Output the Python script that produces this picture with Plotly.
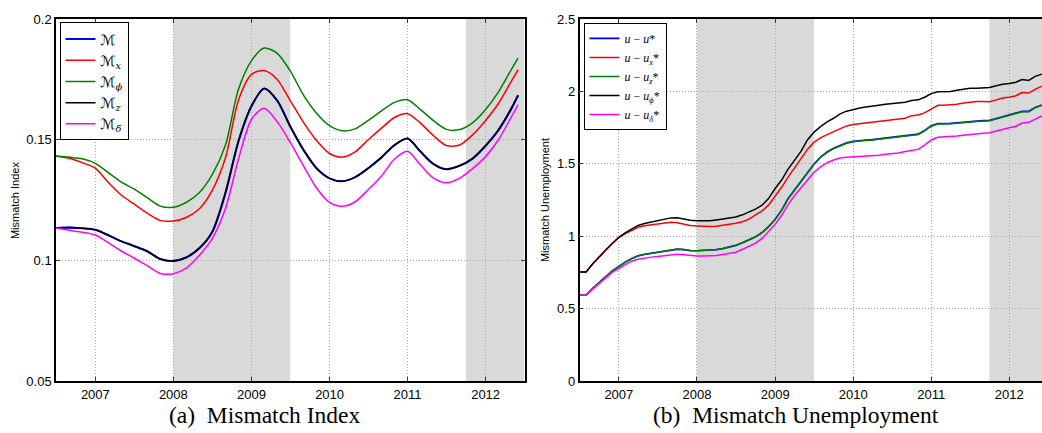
import pandas as pd
import plotly.graph_objects as go

# ---------------- data ----------------
# Left panel (a): bi-monthly readings, Jul 2006 .. May 2012, plus Jun 2012
left_dates = list(pd.date_range("2006-07-01", "2012-05-01", freq="2MS").strftime("%Y-%m-%d")) + ["2012-06-01"]

M_all = [0.1134, 0.1136, 0.1133, 0.1127, 0.1105, 0.1080, 0.1060, 0.1038, 0.1006, 0.0998, 0.1012, 0.1050,
         0.1118, 0.1280, 0.1495, 0.1640, 0.1712, 0.1662, 0.1555, 0.1458, 0.1382, 0.1340, 0.1328, 0.1345,
         0.1382, 0.1427, 0.1478, 0.1505, 0.1452, 0.1400, 0.1378, 0.1392, 0.1422, 0.1475, 0.1540, 0.1630, 0.1684]
M_x = [0.1433, 0.1423, 0.1405, 0.1382, 0.1325, 0.1272, 0.1234, 0.1196, 0.1166, 0.1163, 0.1178, 0.1213,
       0.1290, 0.1425, 0.1665, 0.1771, 0.1787, 0.1750, 0.1662, 0.1572, 0.1497, 0.1443, 0.1428, 0.1450,
       0.1500, 0.1548, 0.1592, 0.1608, 0.1570, 0.1518, 0.1476, 0.1478, 0.1520, 0.1580, 0.1650, 0.1743, 0.1790]
M_phi = [0.1433, 0.1428, 0.1421, 0.1402, 0.1365, 0.1325, 0.1296, 0.1260, 0.1225, 0.1220, 0.1240, 0.1280,
         0.1355, 0.1478, 0.1710, 0.1828, 0.1880, 0.1858, 0.1785, 0.1685, 0.1610, 0.1558, 0.1537, 0.1545,
         0.1580, 0.1620, 0.1655, 0.1666, 0.1626, 0.1580, 0.1543, 0.1542, 0.1570, 0.1625, 0.1698, 0.1792, 0.1838]
M_z = [0.1134, 0.1136, 0.1133, 0.1127, 0.1105, 0.1080, 0.1060, 0.1038, 0.1006, 0.0998, 0.1012, 0.1050,
       0.1118, 0.1280, 0.1495, 0.1640, 0.1712, 0.1662, 0.1555, 0.1458, 0.1382, 0.1340, 0.1328, 0.1345,
       0.1382, 0.1427, 0.1478, 0.1505, 0.1452, 0.1400, 0.1378, 0.1392, 0.1422, 0.1475, 0.1540, 0.1630, 0.1684]
M_delta = [0.1134, 0.1125, 0.1117, 0.1105, 0.1075, 0.1040, 0.1010, 0.0978, 0.0946, 0.0945, 0.0968, 0.1020,
           0.1090, 0.1215, 0.1420, 0.1585, 0.1630, 0.1575, 0.1489, 0.1392, 0.1300, 0.1240, 0.1224, 0.1243,
           0.1293, 0.1350, 0.1420, 0.1452, 0.1397, 0.1342, 0.1322, 0.1340, 0.1380, 0.1430, 0.1500, 0.1595, 0.1645]

# Right panel (b): monthly, Jul 2006 .. Jun 2012
right_dates = list(pd.date_range("2006-07-01", "2012-06-01", freq="MS").strftime("%Y-%m-%d"))

U_all = [0.593, 0.593, 0.640, 0.682, 0.722, 0.760, 0.793, 0.822, 0.845, 0.865, 0.875, 0.883,
         0.889, 0.896, 0.908, 0.911, 0.908, 0.901, 0.900, 0.901, 0.903, 0.908, 0.915, 0.925,
         0.937, 0.955, 0.975, 0.996, 1.026, 1.066, 1.117, 1.182, 1.257, 1.317, 1.377, 1.442,
         1.497, 1.547, 1.582, 1.607, 1.628, 1.645, 1.655, 1.663, 1.665, 1.668, 1.673, 1.679,
         1.683, 1.685, 1.693, 1.700, 1.705, 1.731, 1.763, 1.778, 1.778, 1.780, 1.784, 1.789,
         1.792, 1.795, 1.798, 1.800, 1.813, 1.825, 1.836, 1.847, 1.863, 1.863, 1.890, 1.907]
U_x = [0.753, 0.753, 0.810, 0.860, 0.905, 0.950, 0.990, 1.018, 1.040, 1.062, 1.072, 1.077,
       1.082, 1.088, 1.096, 1.094, 1.083, 1.074, 1.071, 1.068, 1.067, 1.070, 1.075, 1.082,
       1.090, 1.100, 1.118, 1.148, 1.175, 1.215, 1.275, 1.340, 1.405, 1.470, 1.540, 1.600,
       1.648, 1.680, 1.702, 1.722, 1.742, 1.762, 1.772, 1.777, 1.781, 1.785, 1.790, 1.797,
       1.803, 1.810, 1.815, 1.833, 1.837, 1.852, 1.880, 1.904, 1.905, 1.907, 1.912, 1.920,
       1.927, 1.931, 1.930, 1.929, 1.942, 1.955, 1.960, 1.971, 1.993, 1.989, 2.015, 2.037]
U_z = [0.593, 0.593, 0.640, 0.682, 0.722, 0.760, 0.793, 0.822, 0.845, 0.865, 0.875, 0.883,
       0.889, 0.896, 0.908, 0.911, 0.908, 0.901, 0.900, 0.901, 0.903, 0.908, 0.915, 0.925,
       0.937, 0.955, 0.975, 0.995, 1.025, 1.065, 1.115, 1.180, 1.255, 1.315, 1.375, 1.440,
       1.495, 1.545, 1.580, 1.605, 1.625, 1.642, 1.652, 1.660, 1.662, 1.665, 1.670, 1.676,
       1.680, 1.682, 1.690, 1.697, 1.702, 1.728, 1.760, 1.775, 1.775, 1.777, 1.781, 1.786,
       1.789, 1.792, 1.795, 1.797, 1.810, 1.822, 1.833, 1.844, 1.860, 1.860, 1.887, 1.904]
U_phi = [0.753, 0.753, 0.810, 0.860, 0.905, 0.950, 0.993, 1.025, 1.048, 1.075, 1.088, 1.098,
         1.107, 1.114, 1.127, 1.128, 1.118, 1.110, 1.107, 1.106, 1.107, 1.113, 1.120, 1.127,
         1.133, 1.148, 1.165, 1.187, 1.215, 1.260, 1.330, 1.390, 1.460, 1.525, 1.585, 1.665,
         1.718, 1.757, 1.790, 1.815, 1.845, 1.864, 1.876, 1.886, 1.893, 1.897, 1.905, 1.912,
         1.915, 1.918, 1.925, 1.937, 1.942, 1.960, 1.985, 1.998, 1.998, 2.000, 2.008, 2.015,
         2.022, 2.022, 2.022, 2.027, 2.040, 2.050, 2.055, 2.064, 2.082, 2.076, 2.104, 2.120]
U_delta = [0.593, 0.593, 0.635, 0.675, 0.715, 0.750, 0.777, 0.805, 0.828, 0.842, 0.850, 0.856,
           0.860, 0.866, 0.874, 0.876, 0.872, 0.866, 0.864, 0.864, 0.865, 0.868, 0.874, 0.880,
           0.890, 0.910, 0.930, 0.952, 0.985, 1.030, 1.082, 1.145, 1.215, 1.280, 1.335, 1.390,
           1.440, 1.480, 1.508, 1.527, 1.540, 1.546, 1.549, 1.551, 1.553, 1.554, 1.560, 1.567,
           1.571, 1.575, 1.585, 1.593, 1.600, 1.630, 1.665, 1.684, 1.686, 1.688, 1.692, 1.698,
           1.704, 1.708, 1.712, 1.715, 1.728, 1.740, 1.749, 1.760, 1.782, 1.787, 1.809, 1.831]

left_names = ["ℳ", "ℳ<sub><i>x</i></sub>", "ℳ<sub><i>ϕ</i></sub>", "ℳ<sub><i>z</i></sub>", "ℳ<sub><i>δ</i></sub>"]
right_names = ["<i>u</i> − <i>u</i>*", "<i>u</i> − <i>u</i><sub><i>x</i></sub>*", "<i>u</i> − <i>u</i><sub><i>z</i></sub>*",
               "<i>u</i> − <i>u</i><sub><i>ϕ</i></sub>*", "<i>u</i> − <i>u</i><sub><i>δ</i></sub>*"]
colors = ["#0000ff", "#ff0000", "#008000", "#000000", "#ff00ff"]

year_ticks = ["2007-01-01", "2008-01-01", "2009-01-01", "2010-01-01", "2011-01-01", "2012-01-01"]
year_labels = ["2007", "2008", "2009", "2010", "2011", "2012"]
left_yticks = [0.05, 0.1, 0.15, 0.2]
left_ylabels = ["0.05", "0.1", "0.15", "0.2"]
right_yticks = [0, 0.5, 1, 1.5, 2, 2.5]
right_ylabels = ["0", "0.5", "1", "1.5", "2", "2.5"]
shade_periods = [("2008-01-01", "2009-07-01"), ("2011-10-01", "2012-07-01")]

# ---------------- figure ----------------
W, H = 1042, 433
fig = go.Figure()

left_series = [M_all, M_x, M_phi, M_z, M_delta]
left_widths = [2.1, 1.5, 1.5, 1.5, 1.5]
for name, vals, col, w in zip(left_names, left_series, colors, left_widths):
    fig.add_trace(go.Scatter(x=left_dates, y=vals, name=name, mode="lines",
                             line=dict(color=col, width=w, shape="spline", smoothing=0.8),
                             xaxis="x", yaxis="y", legend="legend"))

right_series = [U_all, U_x, U_z, U_phi, U_delta]
right_widths = [1.7, 1.5, 1.5, 1.5, 1.5]
for name, vals, col, w in zip(right_names, right_series, colors, right_widths):
    fig.add_trace(go.Scatter(x=right_dates, y=vals, name=name, mode="lines",
                             line=dict(color=col, width=w),
                             xaxis="x2", yaxis="y2", legend="legend2"))

shapes = []
for xr, yr in [("x", "y domain"), ("x2", "y2 domain")]:
    for a, b in shade_periods:
        shapes.append(dict(type="rect", xref=xr, yref=yr, x0=a, x1=b, y0=0, y1=1,
                           fillcolor="#d9d9d9", line=dict(width=0), layer="below"))

tick_font = dict(family="Liberation Sans, Arial, sans-serif", size=13, color="#000")
y_dom = [(H - 387.5) / H, (H - 12.5) / H]

common_x = dict(type="date", tickvals=year_ticks, ticktext=year_labels, ticks="inside", ticklen=4,
                tickcolor="#333", showline=True, linecolor="#000", linewidth=1.5,
                showgrid=True, gridcolor="#a8a8a8", gridwidth=1, griddash="1px,2px",
                zeroline=False, tickfont=tick_font, ticklabelstandoff=1)
common_y = dict(ticks="inside", ticklen=4, tickcolor="#333", showline=True, linecolor="#000",
                linewidth=1.5, showgrid=True, gridcolor="#a8a8a8", gridwidth=1, griddash="1px,2px",
                zeroline=False, tickfont=tick_font, domain=y_dom)

fig.update_layout(
    width=W, height=H, margin=dict(l=0, r=0, t=0, b=0),
    paper_bgcolor="white", plot_bgcolor="white",
    shapes=shapes,
    xaxis=dict(common_x, domain=[56 / W, 524.5 / W], range=["2006-07-01", "2012-07-01"],
               mirror="ticks", anchor="y"),
    yaxis=dict(common_y, range=[0.05, 0.2], tickvals=left_yticks, ticktext=left_ylabels,
               mirror="ticks", anchor="x"),
    xaxis2=dict(common_x, domain=[579.5 / W, 1.0], range=["2006-07-01", "2012-06-02"],
                mirror="ticks", anchor="y2"),
    yaxis2=dict(common_y, range=[0, 2.5], tickvals=right_yticks, ticktext=right_ylabels,
                mirror=False, anchor="x2"),
    legend=dict(x=59.5 / W, y=1 - 16 / H, xanchor="left", yanchor="top", bgcolor="white",
                bordercolor="#000", borderwidth=1, itemwidth=30, tracegroupgap=0,
                font=dict(family="DejaVu Serif, DejaVu Sans, serif", size=14, color="#000")),
    legend2=dict(x=583.5 / W, y=1 - 16.5 / H, xanchor="left", yanchor="top", bgcolor="white",
                 bordercolor="#000", borderwidth=1, itemwidth=30, tracegroupgap=0,
                 font=dict(family="Liberation Serif, DejaVu Serif, serif", size=12, color="#000")),
    showlegend=True,
    annotations=[
        dict(text="Mismatch Index", x=15 / W, y=1 - 200 / H, xref="paper", yref="paper",
             textangle=-90, showarrow=False, xanchor="center", yanchor="middle",
             font=dict(family="Liberation Sans, Arial, sans-serif", size=11, color="#000")),
        dict(text="Mismatch Unemployment", x=545 / W, y=1 - 200 / H, xref="paper", yref="paper",
             textangle=-90, showarrow=False, xanchor="center", yanchor="middle",
             font=dict(family="Liberation Sans, Arial, sans-serif", size=11, color="#000")),
        dict(text="(a)\u2002Mismatch Index", x=264 / W, y=1 - 423 / H, xref="paper", yref="paper",
             showarrow=False, xanchor="center", yanchor="middle", borderpad=0,
             font=dict(family="Liberation Serif, Times New Roman, serif", size=23.5, color="#000")),
        dict(text="(b)\u2002Mismatch Unemployment", x=796 / W, y=1 - 423 / H, xref="paper", yref="paper",
             showarrow=False, xanchor="center", yanchor="middle", borderpad=0,
             font=dict(family="Liberation Serif, Times New Roman, serif", size=23.5, color="#000")),
    ],
)

fig.write_html("out.html")
